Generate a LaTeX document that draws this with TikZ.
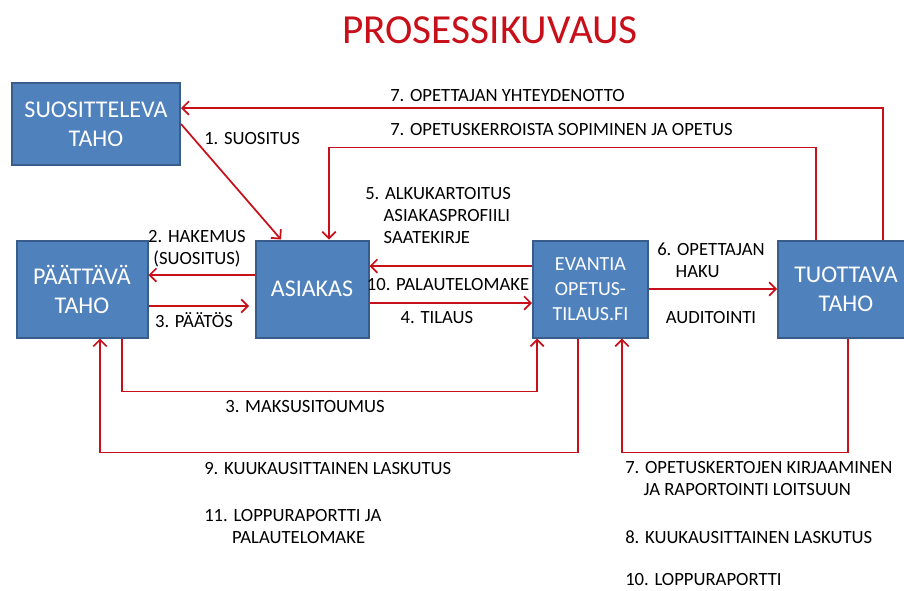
\documentclass[tikz,border=0pt]{standalone}
\usepackage{fontspec}
\setmainfont{Carlito}
\usetikzlibrary{arrows.meta, calc}

\definecolor{boxblue}{RGB}{79,129,189}
\definecolor{boxline}{RGB}{56,93,138}
\definecolor{flowred}{RGB}{200,16,26}

\begin{document}
\begin{tikzpicture}[
    x=0.75pt, y=-0.75pt,
    box/.style={
        rectangle,
        draw=boxline,
        fill=boxblue,
        line width=1.5pt,
        text=white,
        align=center,
        inner sep=0pt,
        minimum height=72.75pt,
        font=\fontsize{18}{21.75}\selectfont
    },
    txt/.style={font=\fontsize{14}{16.5}\selectfont, inner sep=0pt, align=left},
    flow/.style={draw=flowred, line width=1.3pt, -{Straight Barb[length=5pt,width=10pt]}}
]
\clip (0,0) rectangle (904,590);

% 标题
\node[font=\fontsize{31}{36}\selectfont, text=flowred, inner sep=0pt] (title) at (490,30) {PROSESSIKUVAUS};

% 定义五个方框
\node[box, minimum width=126pt, minimum height=61.5pt] (S) at (96,124) {SUOSITTELEVA\\TAHO};
\node[box, minimum width=98.25pt] (P) at (82,289) {PÄÄTTÄVÄ\\TAHO};
\node[box, minimum width=84.75pt] (A) at (312,289) {ASIAKAS};
\node[box, minimum width=86.25pt, font=\fontsize{15}{18.75}\selectfont] (E) at (590.5,289) {EVANTIA\\OPETUS-\\TILAUS.FI};
\node[box, minimum width=102pt] (T) at (846,289) {TUOTTAVA\\TAHO};

% 箭头
\draw[flow] (S.east) -- ($(A.north)+(-31,0)$);
\draw[flow] ($(T.north)+(37,0)$) |- ($(S.east)+(0,-16)$);
\draw[flow] ($(T.north)+(-30,0)$) -- ++(0,-92) -| ($(A.north)+(17,0)$);
\draw[flow] ([yshift=10.5pt]A.west) -- ([yshift=10.5pt]P.east);
\draw[flow] ([yshift=-12.75pt]P.east) -- ([yshift=-12.75pt,xshift=-4pt]A.west);
\draw[flow] ([yshift=17.25pt]E.west) -- ([yshift=17.25pt]A.east);
\draw[flow] ([yshift=-10.5pt]A.east) -- ([yshift=-10.5pt]E.west);
\draw[flow] (E.east) -- (T.west);
\draw[flow] ([xshift=30pt]P.south) -- ++(0,53) -| ([xshift=-40pt]E.south);
\draw[flow] ([xshift=-9.4pt]E.south) -- ++(0,114) -| ([xshift=13.5pt]P.south);
\draw[flow] ([xshift=1.5pt]T.south) -- ++(0,114) -| ([xshift=23.6pt]E.south);

% 添加文字标签
\node[txt, anchor=west] (l7a) at (390,96) {7. OPETTAJAN YHTEYDENOTTO};
\node[txt, anchor=west] (l7b) at (390,130) {7. OPETUSKERROISTA SOPIMINEN JA OPETUS};
\node[txt, anchor=west] (l1) at (204,139) {1. SUOSITUS};
\node[txt, anchor=west] (l5) at (365,216) {5. ALKUKARTOITUS\\\phantom{5.~}ASIAKASPROFIILI\\\phantom{5.~}SAATEKIRJE};
\node[txt, align=center] (l2) at (197,249) {2. HAKEMUS\\(SUOSITUS)};
\node[txt] (l3) at (194,320) {3. PÄÄTÖS};
\node[txt] (l10) at (448,285) {10. PALAUTELOMAKE};
\node[txt] (l4) at (437,318) {4. TILAUS};
\node[txt, anchor=west] (l6) at (657,260) {6. OPETTAJAN\\\phantom{6.~}HAKU};
\node[txt] (laud) at (711,318) {AUDITOINTI};
\node[txt] (l3m) at (305,407) {3. MAKSUSITOUMUS};
\node[txt, anchor=west] (l9) at (204,469) {9. KUUKAUSITTAINEN LASKUTUS};
\node[txt, anchor=west] (l11) at (204,527) {11. LOPPURAPORTTI JA\\\phantom{11.~}PALAUTELOMAKE};
\node[txt, anchor=west] (l7c) at (625,479) {7. OPETUSKERTOJEN KIRJAAMINEN\\\phantom{7.~}JA RAPORTOINTI LOITSUUN};
\node[txt, anchor=west] (l8) at (625,537) {8. KUUKAUSITTAINEN LASKUTUS};
\node[txt, anchor=west] (l10b) at (625,580) {10. LOPPURAPORTTI};

\end{tikzpicture}
\end{document}
